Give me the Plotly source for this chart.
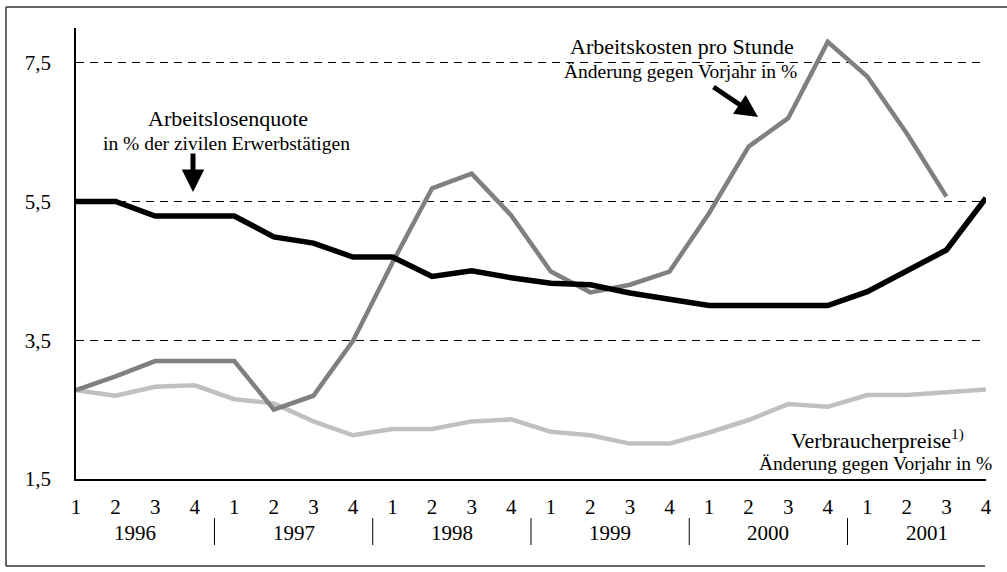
import plotly.graph_objects as go

# ---- data ----
quarters = ["1", "2", "3", "4"] * 6
years = ["1996", "1997", "1998", "1999", "2000", "2001"]
x_idx = list(range(24))

arbeitslosenquote = [5.50, 5.50, 5.29, 5.29, 5.29, 4.99, 4.90, 4.70,
                     4.70, 4.42, 4.50, 4.40, 4.32, 4.30, 4.18, 4.09,
                     4.00, 4.00, 4.00, 4.00, 4.20, 4.50, 4.80, 5.55]
arbeitskosten = [2.78, 2.98, 3.20, 3.20, 3.20, 2.50, 2.70, 3.49,
                 4.62, 5.69, 5.90, 5.30, 4.49, 4.19, 4.30, 4.49,
                 5.33, 6.29, 6.70, 7.80, 7.30, 6.48, 5.57, None]
verbraucherpreise = [2.78, 2.70, 2.83, 2.85, 2.65, 2.59, 2.33, 2.13,
                     2.22, 2.22, 2.33, 2.36, 2.18, 2.13, 2.01, 2.01,
                     2.17, 2.35, 2.58, 2.54, 2.71, 2.71, 2.75, 2.79]
y_ticks = [1.5, 3.5, 5.5, 7.5]
y_tick_text = ["1,5", "3,5", "5,5", "7,5"]

FONT = "Liberation Serif"

# plot area in pixels
L, R, T, B = 76, 986, 28, 479
W, H = 1007, 572


def px(xp):
    return (xp - L) / (R - L)


def py(yp):
    return (B - yp) / (B - T)


fig = go.Figure()
fig.add_trace(go.Scatter(x=x_idx, y=verbraucherpreise, mode="lines",
                         line=dict(color="#c0c0c0", width=4.5), hoverinfo="skip"))
fig.add_trace(go.Scatter(x=x_idx, y=arbeitskosten, mode="lines",
                         line=dict(color="#808080", width=4.5), hoverinfo="skip"))
fig.add_trace(go.Scatter(x=x_idx, y=arbeitslosenquote, mode="lines",
                         line=dict(color="#000000", width=5.5), hoverinfo="skip"))

fig.update_layout(
    width=W, height=H,
    margin=dict(l=L, r=W - R, t=T, b=H - B),
    paper_bgcolor="white", plot_bgcolor="white",
    showlegend=False,
    font=dict(family=FONT, size=21, color="black"),
    xaxis=dict(range=[0, 23], tickvals=x_idx, ticktext=quarters,
               showgrid=False, zeroline=False, showline=True,
               linecolor="black", linewidth=1.5, ticks="",
               ticklabelstandoff=8,
               tickfont=dict(family=FONT, size=21, color="black")),
    yaxis=dict(range=[1.5, 8.0], tickvals=y_ticks, ticktext=y_tick_text,
               showgrid=True, gridcolor="black", gridwidth=1,
               griddash="8px,6px", zeroline=False, showline=True,
               linecolor="black", linewidth=1.5, ticks="",
               ticklabelstandoff=19,
               tickfont=dict(family=FONT, size=21, color="black")),
)

shapes = []
# year separators
for k in range(1, 6):
    shapes.append(dict(type="line", xref="x", yref="paper",
                       x0=4 * k - 0.5, x1=4 * k - 0.5, y0=py(518), y1=py(545),
                       line=dict(color="black", width=1)))
# outer frame (left, top, bottom)
shapes.append(dict(type="line", xref="paper", yref="paper",
                   x0=px(6), x1=px(6), y0=py(7), y1=py(566),
                   line=dict(color="#333333", width=1.5)))
shapes.append(dict(type="line", xref="paper", yref="paper",
                   x0=px(6), x1=px(1007), y0=py(7), y1=py(7),
                   line=dict(color="#333333", width=1.5)))
shapes.append(dict(type="line", xref="paper", yref="paper",
                   x0=px(6), x1=px(985), y0=py(566), y1=py(566),
                   line=dict(color="#333333", width=1.5)))
fig.update_layout(shapes=shapes)

anns = []
# year labels
for i, yr in enumerate(years):
    anns.append(dict(x=4 * i + 1.5, y=py(533), xref="x", yref="paper",
                     text=yr, showarrow=False, xanchor="center", yanchor="middle",
                     font=dict(family=FONT, size=21, color="black")))


def label(xp, yp, text, size):
    anns.append(dict(x=px(xp), y=py(yp), xref="paper", yref="paper",
                     text=text, showarrow=False, xanchor="center", yanchor="middle",
                     font=dict(family=FONT, size=size, color="black")))


label(228, 118, "Arbeitslosenquote", 22)
label(226, 143, "in % der zivilen Erwerbstätigen", 19.5)
label(682, 47, "Arbeitskosten pro Stunde", 22)
label(680, 72, "Änderung gegen Vorjahr in %", 19.5)
label(877, 439, "Verbraucherpreise<sup>1)</sup>", 22)
label(875, 463, "Änderung gegen Vorjahr in %", 19.5)

# arrows
anns.append(dict(x=px(193), y=py(192), xref="paper", yref="paper",
                 ax=0, ay=-40, text="", showarrow=True,
                 arrowhead=2, arrowsize=0.9, arrowwidth=5, arrowcolor="black"))
anns.append(dict(x=px(758), y=py(117), xref="paper", yref="paper",
                 ax=-46, ay=-31, text="", showarrow=True,
                 arrowhead=2, arrowsize=0.9, arrowwidth=5, arrowcolor="black"))
fig.update_layout(annotations=anns)

fig.write_html("out.html",
               config={"displayModeBar": False},
               post_script="document.body.style.margin='0px';document.body.style.overflow='hidden';")
